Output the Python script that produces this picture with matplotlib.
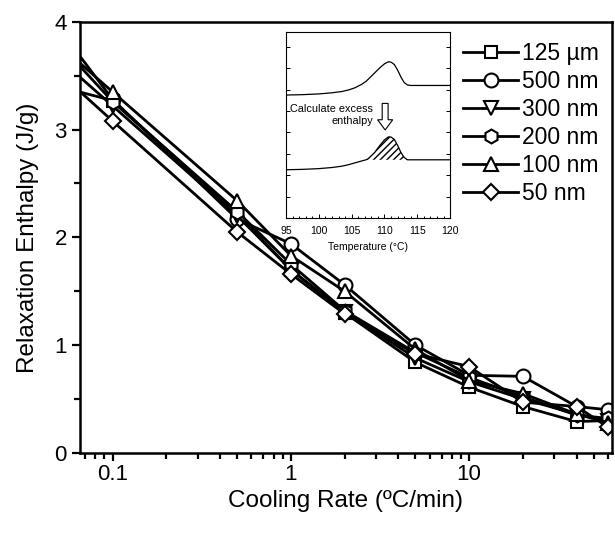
import matplotlib
matplotlib.use('Agg')
import matplotlib.pyplot as plt
from matplotlib.ticker import FixedLocator, LogLocator, MultipleLocator, NullFormatter

plt.rcParams['font.family'] = ['Liberation Sans', 'DejaVu Sans']

# cooling rates (degC/min); the 0.05 point lies just left of the visible range
RATES = [0.05, 0.1, 0.5, 1, 2, 5, 10, 20, 40, 60]

LABELS = ['125 \u00b5m', '500 nm', '300 nm', '200 nm', '100 nm', '50 nm']
MARKERS = ['s', 'o', 'v', 'h', '^', 'D']

H_125UM = [3.40, 3.27, 2.22, 1.70, 1.30, 0.84, 0.61, 0.43, 0.29, 0.30]
H_500NM = [3.94, 3.28, 2.17, 1.94, 1.56, 1.00, 0.72, 0.71, 0.43, 0.40]
H_300NM = [3.66, 3.22, 2.20, 1.70, 1.31, 0.88, 0.66, 0.50, 0.36, 0.30]
H_200NM = [3.80, 3.26, 2.24, 1.75, 1.32, 0.93, 0.70, 0.52, 0.35, 0.32]
H_100NM = [3.79, 3.35, 2.34, 1.83, 1.50, 0.96, 0.67, 0.55, 0.36, 0.28]
H_50NM = [3.53, 3.08, 2.05, 1.66, 1.29, 0.92, 0.80, 0.47, 0.43, 0.24]

SERIES = [H_125UM, H_500NM, H_300NM, H_200NM, H_100NM, H_50NM]

# inset: schematic DSC traces (temperature, normalised heat flow)
T_TRACE = [95.0, 97.5, 100.0, 102.0, 103.5, 104.5, 105.5, 106.5, 107.2, 107.5, 108.5,
           109.3, 110.0, 110.6, 111.0, 111.5, 112.0, 112.5, 113.0, 113.5, 114.0, 120.0]
UPPER_TRACE = [0.661, 0.663, 0.667, 0.673, 0.680, 0.688, 0.700, 0.718, 0.735, 0.745, 0.780,
               0.808, 0.829, 0.840, 0.838, 0.825, 0.795, 0.758, 0.728, 0.715, 0.7125, 0.7125]
LOWER_TRACE = [0.259, 0.261, 0.265, 0.271, 0.278, 0.286, 0.296, 0.306, 0.3125, 0.318, 0.352,
               0.390, 0.420, 0.436, 0.435, 0.422, 0.390, 0.352, 0.325, 0.3125, 0.3125, 0.3125]
BASELINE = 0.3125


def main() -> None:
    fig = plt.figure(figsize=(6.15, 5.34), dpi=100)
    ax = fig.add_axes([0.130, 0.152, 0.865, 0.807])

    for values, marker, label in zip(SERIES, MARKERS, LABELS):
        ms = 8.5 if marker in ('s', 'D') else 10
        ax.plot(RATES, values, color='black', lw=2.0, marker=marker, ms=ms,
                mfc='white', mec='black', mew=1.5, label=label)

    ax.set_xscale('log')
    ax.set_xlim(0.0656, 63.2)
    ax.set_ylim(0, 4)
    ax.xaxis.set_major_locator(FixedLocator([0.1, 1, 10]))
    ax.set_xticklabels(['0.1', '1', '10'])
    ax.xaxis.set_minor_locator(LogLocator(base=10, subs=range(2, 10), numticks=20))
    ax.xaxis.set_minor_formatter(NullFormatter())
    ax.yaxis.set_major_locator(MultipleLocator(1))
    ax.yaxis.set_minor_locator(MultipleLocator(0.5))

    for sp in ax.spines.values():
        sp.set_linewidth(1.8)
    ax.tick_params(which='major', direction='out', length=6, width=1.6, labelsize=16)
    ax.tick_params(which='minor', direction='out', length=4, width=1.6)
    ax.tick_params(axis='x', which='major', pad=2)

    ax.set_xlabel('Cooling Rate (\u00baC/min)', fontsize=17.5, labelpad=4)
    ax.set_ylabel('Relaxation Enthalpy (J/g)', fontsize=17.5, labelpad=11)

    ax.legend(loc='upper left', bbox_to_anchor=(0.695, 0.985), frameon=False,
              fontsize=16.5, handlelength=2.4, handletextpad=0.15, labelspacing=0.22,
              borderaxespad=0.2)

    # inset DSC sketch
    ins = fig.add_axes([0.465, 0.592, 0.267, 0.348])
    ins.plot(T_TRACE, UPPER_TRACE, color='black', lw=0.9)
    ins.plot(T_TRACE, LOWER_TRACE, color='black', lw=0.9)
    ins.fill_between(T_TRACE, BASELINE, LOWER_TRACE,
                     where=[BASELINE <= v and t >= 107.2 for t, v in zip(T_TRACE, LOWER_TRACE)],
                     facecolor='none', edgecolor='black', hatch='/////', linewidth=0)
    ins.arrow(110.1, 0.616, 0, -0.143, width=0.9, head_width=2.3, head_length=0.055,
              length_includes_head=True, fc='white', ec='black', lw=0.8)
    ins.text(108.3, 0.553, 'Calculate excess\nenthalpy', ha='right', va='center',
             multialignment='right', fontsize=7.8)
    ins.set_xlim(95, 120)
    ins.set_ylim(0, 1)
    ins.xaxis.set_major_locator(MultipleLocator(5))
    ins.xaxis.set_minor_locator(MultipleLocator(1))
    ins.yaxis.set_major_locator(MultipleLocator(0.115))
    ins.yaxis.set_major_formatter(NullFormatter())
    ins.tick_params(which='both', direction='in', labelsize=7.5, width=0.7, pad=6,
                    left=True, right=True)
    ins.tick_params(which='major', length=3)
    ins.tick_params(which='minor', length=1.8)
    ins.set_xlabel('Temperature (\u00b0C)', fontsize=7.5, labelpad=4)
    for sp in ins.spines.values():
        sp.set_linewidth(0.8)

    fig.savefig('out.png', dpi=100)
    plt.close(fig)


if __name__ == '__main__':
    main()
